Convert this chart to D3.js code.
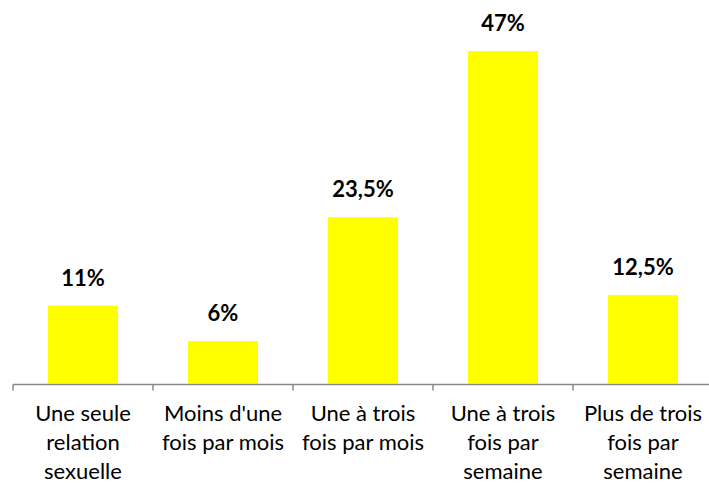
<!DOCTYPE html>
<html>
<head>
  <meta charset="utf-8">
  <script src="https://cdn.jsdelivr.net/npm/d3@7"></script>
  <style>
    body { margin: 0; background: #fff; }
    svg { display: block; font-family: Lato, "Open Sans", sans-serif; }
  </style>
</head>
<body>
<svg id="svg" width="709" height="485"></svg>
<script>
  // categories, values and tick label lines
  var categories = ['seule', 'moins', 'mois', 'semaine', 'plus'];
  var values = [11, 6, 23.5, 47, 12.5];
  var valueLabels = ['11%', '6%', '23,5%', '47%', '12,5%'];
  var tickLabels = [
    ['Une seule', 'relation', 'sexuelle'],
    ["Moins d'une", 'fois par mois'],
    ['Une à trois', 'fois par mois'],
    ['Une à trois', 'fois par', 'semaine'],
    ['Plus de trois', 'fois par', 'semaine']
  ];

  var svg = d3.select('#svg');

  var x = d3.scaleBand()
    .domain(categories)
    .range([13, 713])
    .paddingInner(0.5)
    .paddingOuter(0.25);

  var y = d3.scaleLinear()
    .domain([0, 47])
    .range([383.5, 51]);

  // bars
  svg.selectAll('rect.bar')
    .data(values)
    .enter()
    .append('rect')
    .attr('class', 'bar')
    .attr('x', (d, i) => x(categories[i]))
    .attr('y', d => y(d))
    .attr('width', x.bandwidth())
    .attr('height', d => y(0) - y(d))
    .attr('fill', '#ffff00');

  // value labels
  svg.selectAll('text.val')
    .data(values)
    .enter()
    .append('text')
    .attr('class', 'val')
    .attr('x', (d, i) => x(categories[i]) + x.bandwidth() / 2)
    .attr('y', d => y(d) - 20)
    .attr('text-anchor', 'middle')
    .style('font-size', '22px')
    .style('font-weight', 'bold')
    .style('fill', '#000')
    .text((d, i) => valueLabels[i]);

  // x axis
  var axis = d3.axisBottom(x)
    .tickSize(0)
    .tickFormat('');

  var g = svg.append('g')
    .attr('transform', 'translate(0,' + 384.5 + ')')
    .call(axis);
  g.select('.domain').attr('stroke', '#888').attr('stroke-width', 1.5).attr('d', 'M13,0H713');

  // tick marks between categories
  var step = x.step();
  var bounds = d3.range(categories.length + 1).map(i => x.range()[0] + i * step);
  g.selectAll('line.sep')
    .data(bounds)
    .enter()
    .append('line')
    .attr('class', 'sep')
    .attr('x1', d => d)
    .attr('x2', d => d)
    .attr('y1', 0)
    .attr('y2', 6)
    .attr('stroke', '#888')
    .attr('stroke-width', 1.5);

  // category labels
  var labels = svg.selectAll('text.cat')
    .data(tickLabels)
    .enter()
    .append('text')
    .attr('class', 'cat')
    .attr('text-anchor', 'middle')
    .style('font-size', '22px')
    .style('fill', '#000');

  labels.selectAll('tspan')
    .data((d, i) => d.map(t => ({ t: t, i: i })))
    .enter()
    .append('tspan')
    .attr('x', d => x(categories[d.i]) + x.bandwidth() / 2)
    .attr('y', (d, j) => 421 + j * 29)
    .text(d => d.t);
</script>
</body>
</html>
